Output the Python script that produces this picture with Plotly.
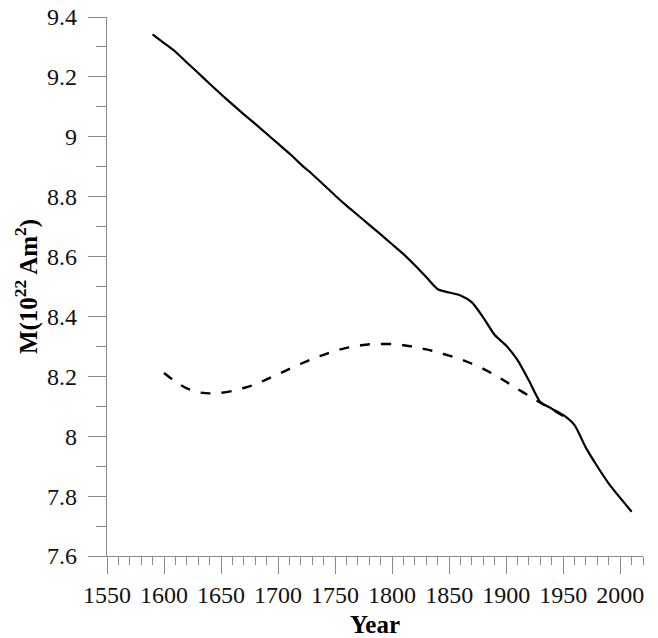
import plotly.graph_objects as go

# Solid curve (field model)
solid_years = [1590, 1600, 1610, 1620, 1630, 1640, 1650, 1660, 1670, 1680, 1690,
               1700, 1710, 1720, 1730, 1740, 1750, 1760, 1770, 1780, 1790,
               1800, 1810, 1820, 1830, 1840, 1850, 1860, 1870, 1880, 1890,
               1900, 1910, 1920, 1930, 1940, 1950, 1960, 1970, 1980, 1990,
               2000, 2010]
solid_values = [9.342, 9.313, 9.284, 9.248, 9.213, 9.177, 9.142, 9.108, 9.075, 9.043, 9.010,
                8.977, 8.944, 8.908, 8.875, 8.840, 8.804, 8.770, 8.738, 8.706, 8.674,
                8.641, 8.608, 8.571, 8.531, 8.491, 8.480, 8.470, 8.447, 8.396, 8.338,
                8.303, 8.254, 8.186, 8.114, 8.092, 8.071, 8.037, 7.961, 7.899, 7.842,
                7.794, 7.748]

# Dashed curve
dashed_years = [1600, 1610, 1620, 1630, 1640, 1650, 1660, 1670, 1680, 1690,
                1700, 1710, 1720, 1730, 1740, 1750, 1760, 1770, 1780, 1790,
                1800, 1810, 1820, 1830, 1840, 1850, 1860, 1870, 1880, 1890,
                1900, 1910, 1920, 1930, 1940, 1950]
dashed_values = [8.211, 8.182, 8.160, 8.147, 8.143, 8.145, 8.151, 8.161, 8.173, 8.190,
                 8.207, 8.225, 8.242, 8.258, 8.272, 8.285, 8.295, 8.302, 8.307, 8.308,
                 8.308, 8.304, 8.298, 8.290, 8.280, 8.269, 8.257, 8.242, 8.225, 8.205,
                 8.182, 8.158, 8.135, 8.112, 8.090, 8.068]

x_tickvals = [1550, 1600, 1650, 1700, 1750, 1800, 1850, 1900, 1950, 2000]
x_ticktext = ["1550", "1600", "1650", "1700", "1750", "1800", "1850", "1900", "1950", "2000"]
y_tickvals = [7.6, 7.8, 8.0, 8.2, 8.4, 8.6, 8.8, 9.0, 9.2, 9.4]
y_ticktext = ["7.6", "7.8", "8", "8.2", "8.4", "8.6", "8.8", "9", "9.2", "9.4"]

FONT = "Liberation Serif"
AXIS_GRAY = "#8a8a8a"

fig = go.Figure()
fig.add_trace(go.Scatter(x=solid_years, y=solid_values, mode="lines",
                         line=dict(color="black", width=2.2, shape="spline", smoothing=0.6),
                         showlegend=False))
fig.add_trace(go.Scatter(x=dashed_years, y=dashed_values, mode="lines",
                         line=dict(color="black", width=2.4, dash="10px,11px", shape="spline", smoothing=0.6),
                         showlegend=False))

# The page body has an 8px margin, so the figure is sized to fit the window.
fig.update_layout(
    width=650, height=630,
    margin=dict(l=99, r=15, t=9, b=82, autoexpand=False),
    paper_bgcolor="white", plot_bgcolor="white",
    font=dict(family=FONT, color="#111", size=24),
)
fig.update_xaxes(
    range=[1550, 2020], showgrid=False, zeroline=False, automargin=False,
    showline=True, linecolor=AXIS_GRAY, linewidth=1.2,
    tickmode="array", tickvals=x_tickvals, ticktext=x_ticktext,
    ticks="outside", ticklen=17, tickwidth=1.2, tickcolor=AXIS_GRAY,
    tickfont=dict(size=24, family=FONT, color="#111"),
    ticklabeloverflow="allow",
    minor=dict(tickmode="linear", tick0=1550, dtick=10, ticks="outside",
               ticklen=8, tickwidth=1.2, tickcolor=AXIS_GRAY, showgrid=False),
    title=dict(text="<b>Year</b>", font=dict(size=25, family=FONT, color="black"), standoff=18),
)
fig.update_yaxes(
    range=[7.6, 9.4], showgrid=False, zeroline=False, automargin=False,
    showline=True, linecolor=AXIS_GRAY, linewidth=1.2,
    tickmode="array", tickvals=y_tickvals, ticktext=y_ticktext,
    ticks="outside", ticklen=18, tickwidth=1.2, tickcolor=AXIS_GRAY,
    tickfont=dict(size=24, family=FONT, color="#111"),
    ticklabelstandoff=6, ticklabeloverflow="allow",
    minor=dict(tickmode="linear", tick0=7.6, dtick=0.1, ticks="outside",
               ticklen=10, tickwidth=1.2, tickcolor=AXIS_GRAY, showgrid=False),
    title=dict(text="<b>M(10<sup>22</sup> Am<sup>2</sup>)</b>",
               font=dict(size=25, family=FONT, color="black"), standoff=2),
)

fig.write_html("out.html")
